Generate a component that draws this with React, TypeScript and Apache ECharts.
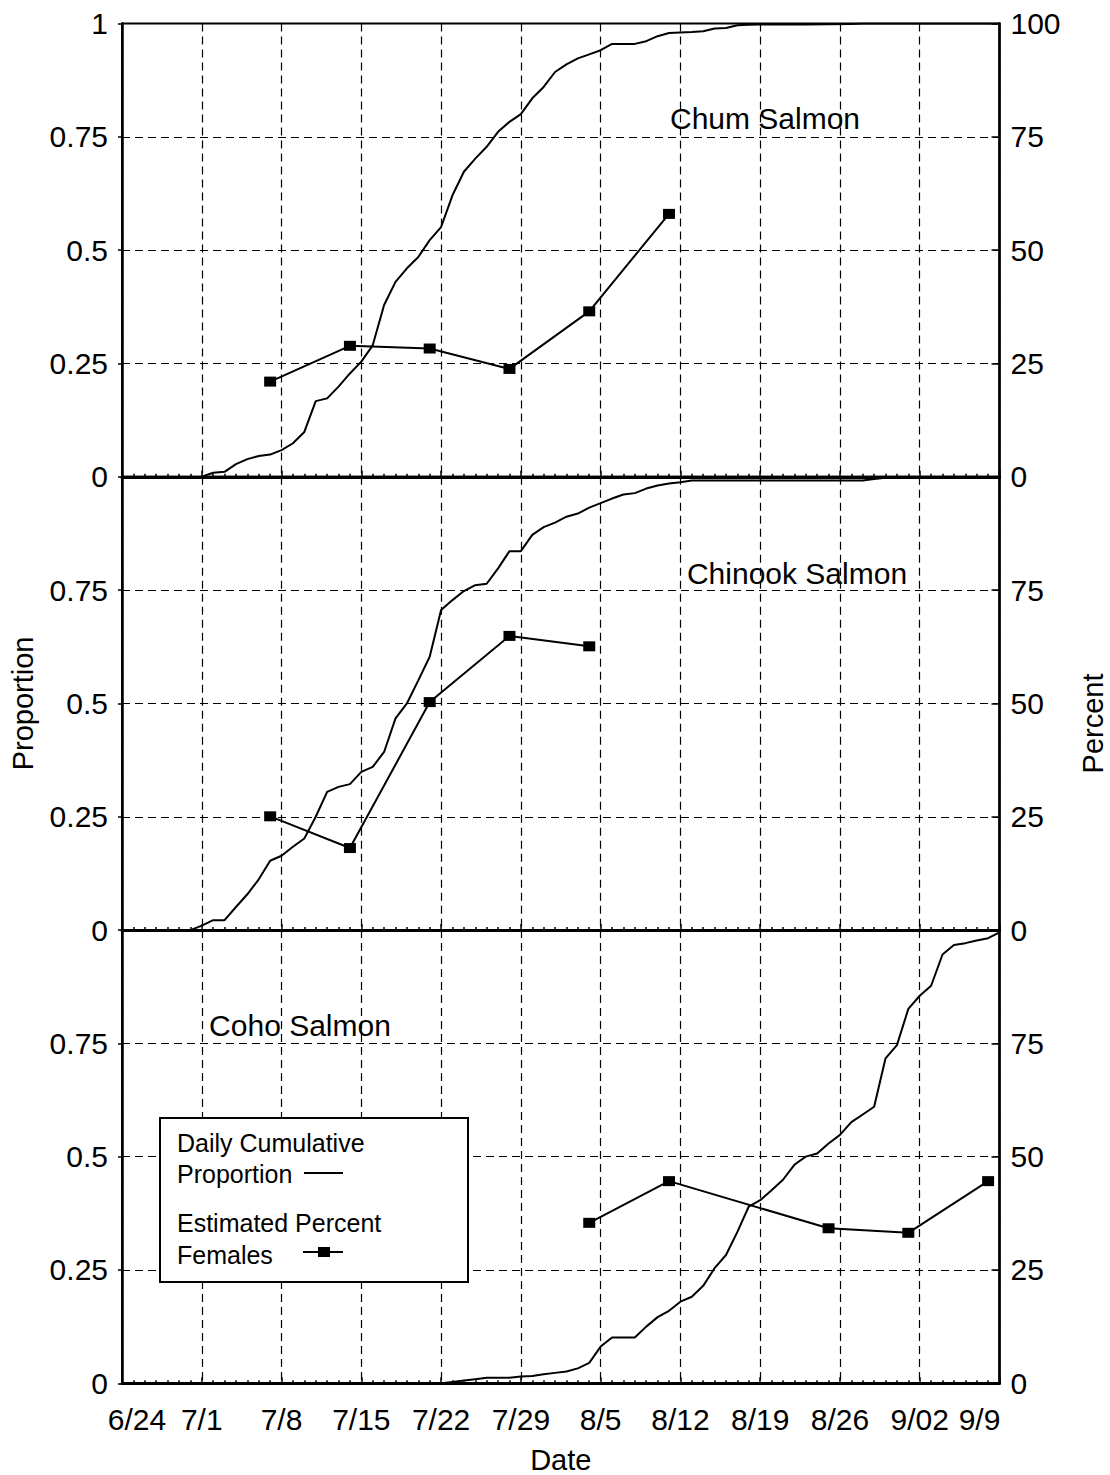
import { useEffect, useRef } from "react";
import * as echarts from "echarts";

// ---- Data ----
const TICK_LABELS = ["6/24", "7/1", "7/8", "7/15", "7/22", "7/29", "8/5", "8/12", "8/19", "8/26", "9/02", "9/9"];
const PANEL_TITLES = ["Chum Salmon", "Chinook Salmon", "Coho Salmon"];

// [day since 6/24, daily cumulative proportion]
const CHUM_CUMULATIVE: [number, number][] = [
  [7, 0], [8, 0.009], [9, 0.011], [10, 0.028], [11, 0.039], [12, 0.046], [13, 0.049], [14, 0.059],
  [15, 0.074], [16, 0.099], [17, 0.167], [18, 0.173], [19, 0.199], [20, 0.228], [21, 0.254], [22, 0.29],
  [23, 0.379], [24, 0.43], [25, 0.46], [26, 0.485], [27, 0.522], [28, 0.551], [29, 0.621], [30, 0.673],
  [31, 0.702], [32, 0.728], [33, 0.761], [34, 0.783], [35, 0.8], [36, 0.835], [37, 0.86], [38, 0.893],
  [39, 0.91], [40, 0.923], [41, 0.932], [42, 0.941], [43, 0.955], [44, 0.955], [45, 0.955], [46, 0.961],
  [47, 0.972], [48, 0.979], [49, 0.98], [50, 0.981], [51, 0.983], [52, 0.989], [53, 0.99], [54, 0.996],
  [55, 0.997], [56, 0.998], [60, 0.998], [64, 0.999], [65, 1], [77, 1],
];
const CHINOOK_CUMULATIVE: [number, number][] = [
  [6, 0], [7, 0.01], [8, 0.022], [9, 0.022], [10, 0.051], [11, 0.079], [12, 0.112], [13, 0.153],
  [14, 0.164], [15, 0.184], [16, 0.202], [17, 0.25], [18, 0.305], [19, 0.316], [20, 0.322], [21, 0.349],
  [22, 0.36], [23, 0.393], [24, 0.467], [25, 0.5], [26, 0.551], [27, 0.603], [28, 0.706], [29, 0.728],
  [30, 0.748], [31, 0.761], [32, 0.764], [33, 0.798], [34, 0.836], [35, 0.836], [36, 0.872], [37, 0.889],
  [38, 0.899], [39, 0.912], [40, 0.919], [41, 0.932], [42, 0.942], [43, 0.952], [44, 0.961], [45, 0.964],
  [46, 0.974], [47, 0.981], [48, 0.985], [49, 0.988], [50, 0.992], [65, 0.992], [66, 0.995], [67, 0.998],
  [68, 1], [77, 1],
];
const COHO_CUMULATIVE: [number, number][] = [
  [28, 0], [29, 0.003], [30, 0.006], [31, 0.009], [32, 0.012], [33, 0.012], [34, 0.012], [35, 0.015],
  [36, 0.016], [37, 0.02], [38, 0.023], [39, 0.026], [40, 0.033], [41, 0.045], [42, 0.081], [43, 0.101],
  [44, 0.101], [45, 0.101], [46, 0.125], [47, 0.146], [48, 0.16], [49, 0.18], [50, 0.191], [51, 0.215],
  [52, 0.254], [53, 0.283], [54, 0.334], [55, 0.39], [56, 0.404], [57, 0.426], [58, 0.449], [59, 0.482],
  [60, 0.5], [61, 0.507], [62, 0.529], [63, 0.548], [64, 0.576], [65, 0.593], [66, 0.61], [67, 0.717],
  [68, 0.746], [69, 0.826], [70, 0.855], [71, 0.877], [72, 0.946], [73, 0.967], [74, 0.971], [75, 0.977],
  [76, 0.982], [77, 0.995],
];

// [day since 6/24, estimated percent females]
const CHUM_FEMALES: [number, number][] = [[13, 21], [20, 28.9], [27, 28.3], [34, 23.8], [41, 36.5], [48, 58]];
const CHINOOK_FEMALES: [number, number][] = [[13, 25.1], [20, 18.1], [27, 50.3], [34, 64.9], [41, 62.6]];
const COHO_FEMALES: [number, number][] = [[41, 35.4], [48, 44.6], [62, 34.2], [69, 33.2], [76, 44.6]];

const CUMULATIVE = [CHUM_CUMULATIVE, CHINOOK_CUMULATIVE, COHO_CUMULATIVE];
const FEMALES = [CHUM_FEMALES, CHINOOK_FEMALES, COHO_FEMALES];

// ---- Layout ----
const FONT = "'Liberation Sans', Arial, sans-serif";
const TICK_SIZE = 30;
const NAME_SIZE = 29;
const LEGEND_SIZE = 25;
const GRID_LEFT = 122;
const GRID_WIDTH = 877.5;
const GRID_TOPS = [23.5, 476.8, 930];
const GRID_HEIGHT = 453.3;
const TITLE_POS: [number, number][] = [[765, 118], [797, 573], [300, 1025]];

export default function App() {
  const ref = useRef<HTMLDivElement>(null);

  useEffect(() => {
    if (!ref.current) return;
    const chart = echarts.init(ref.current, null, { renderer: "svg" });

    const dashed = { color: "#000", type: [8, 5] as number[], width: 1.2 };

    const grid = GRID_TOPS.map((top) => ({
      left: GRID_LEFT,
      width: GRID_WIDTH,
      top,
      height: GRID_HEIGHT,
      show: true,
      borderColor: "#000",
      borderWidth: 2,
      backgroundColor: "transparent",
      outerBoundsMode: "none",
    }));

    const xAxis = [0, 1, 2].map((i) => ({
      type: "value",
      gridIndex: i,
      min: 0,
      max: 77,
      interval: 7,
      axisLine: { show: true, onZero: false, lineStyle: { color: "#000", width: 3 } },
      axisTick: { show: true, inside: true, length: 6, lineStyle: { color: "#000", width: 1.5 } },
      minorTick: { show: true, splitNumber: 7, length: 3, lineStyle: { color: "#000", width: 1.5 } },
      splitLine: { show: true, lineStyle: dashed },
      axisLabel: {
        show: i === 2,
        color: "#000",
        fontSize: TICK_SIZE,
        fontFamily: FONT,
        margin: 21,
        formatter: (v: number) => {
          const idx = Math.round(v / 7);
          const t = TICK_LABELS[idx] ?? "";
          if (idx === 0) return `{first|${t}}`;
          if (idx === TICK_LABELS.length - 1) return `{last|${t}}`;
          return t;
        },
        rich: {
          first: { fontSize: TICK_SIZE, fontFamily: FONT, color: "#000", padding: [0, 0, 0, 30] },
          last: { fontSize: TICK_SIZE, fontFamily: FONT, color: "#000", padding: [0, 40, 0, 0] },
        },
      },
      name: i === 2 ? "Date" : "",
      nameLocation: "middle",
      nameGap: 62,
      nameTextStyle: { color: "#000", fontSize: NAME_SIZE, fontFamily: FONT },
    }));

    const yAxis: any[] = [];
    [0, 1, 2].forEach((i) => {
      yAxis.push({
        type: "value",
        gridIndex: i,
        position: "left",
        min: 0,
        max: 1,
        interval: 0.25,
        axisLine: { show: true, lineStyle: { color: "#000", width: 2.5 } },
        axisTick: { show: true, length: 4, lineStyle: { color: "#000", width: 1.5 } },
        splitLine: { show: true, lineStyle: dashed },
        axisLabel: { color: "#000", fontSize: TICK_SIZE, fontFamily: FONT, margin: 14, showMaxLabel: i === 0 },
        name: i === 1 ? "Proportion" : "",
        nameLocation: "middle",
        nameGap: 85,
        nameRotate: 90,
        nameTextStyle: { color: "#000", fontSize: NAME_SIZE, fontFamily: FONT },
      });
      yAxis.push({
        type: "value",
        gridIndex: i,
        position: "right",
        min: 0,
        max: 100,
        interval: 25,
        axisLine: { show: true, lineStyle: { color: "#000", width: 2.5 } },
        axisTick: { show: true, inside: true, length: 8, lineStyle: { color: "#000", width: 1.5 } },
        splitLine: { show: false },
        axisLabel: { color: "#000", fontSize: TICK_SIZE, fontFamily: FONT, margin: 11, showMaxLabel: i === 0 },
        name: i === 1 ? "Percent" : "",
        nameLocation: "middle",
        nameGap: 79,
        nameRotate: 90,
        nameTextStyle: { color: "#000", fontSize: NAME_SIZE, fontFamily: FONT, padding: [0, 40, 0, 0] },
      });
    });

    const series: any[] = [];
    [0, 1, 2].forEach((i) => {
      series.push({
        name: "Daily Cumulative Proportion",
        type: "line",
        xAxisIndex: i,
        yAxisIndex: i * 2,
        data: CUMULATIVE[i],
        symbol: "none",
        showSymbol: false,
        lineStyle: { color: "#000", width: 2 },
        z: 3,
      });
      series.push({
        name: "Estimated Percent Females",
        type: "line",
        xAxisIndex: i,
        yAxisIndex: i * 2 + 1,
        data: FEMALES[i],
        symbol: "rect",
        symbolSize: [12, 10],
        itemStyle: { color: "#000" },
        lineStyle: { color: "#000", width: 2 },
        z: 4,
      });
    });

    const textStyle = (text: string, size: number, align: string) => ({
      text,
      fill: "#000",
      fontSize: size,
      fontFamily: FONT,
      align,
      verticalAlign: "middle",
    });

    const graphic: any[] = TITLE_POS.map((p, i) => ({
      type: "text",
      x: p[0],
      y: p[1],
      z: 50,
      style: textStyle(PANEL_TITLES[i], TICK_SIZE, "center"),
    }));

    graphic.push({
      type: "group",
      z: 100,
      children: [
        {
          type: "rect",
          shape: { x: 160, y: 1118, width: 308, height: 164 },
          style: { fill: "#fff", stroke: "#000", lineWidth: 2 },
          z: 100,
        },
        { type: "text", x: 177, y: 1143, z: 101, style: textStyle("Daily Cumulative", LEGEND_SIZE, "left") },
        { type: "text", x: 177, y: 1174, z: 101, style: textStyle("Proportion", LEGEND_SIZE, "left") },
        {
          type: "line",
          shape: { x1: 304, y1: 1173, x2: 343, y2: 1173 },
          style: { stroke: "#000", lineWidth: 2 },
          z: 101,
        },
        { type: "text", x: 177, y: 1223, z: 101, style: textStyle("Estimated Percent", LEGEND_SIZE, "left") },
        { type: "text", x: 177, y: 1255, z: 101, style: textStyle("Females", LEGEND_SIZE, "left") },
        {
          type: "line",
          shape: { x1: 303, y1: 1252, x2: 343, y2: 1252 },
          style: { stroke: "#000", lineWidth: 2 },
          z: 101,
        },
        {
          type: "rect",
          shape: { x: 318, y: 1247, width: 12, height: 10 },
          style: { fill: "#000" },
          z: 102,
        },
      ],
    });

    chart.setOption({
      animation: false,
      backgroundColor: "#fff",
      grid,
      xAxis,
      yAxis,
      series,
      graphic,
    } as any);

    return () => chart.dispose();
  }, []);

  return (
    <div
      ref={ref}
      style={{ position: "absolute", left: 0, top: 0, width: 1110, height: 1475, background: "#fff" }}
    />
  );
}
